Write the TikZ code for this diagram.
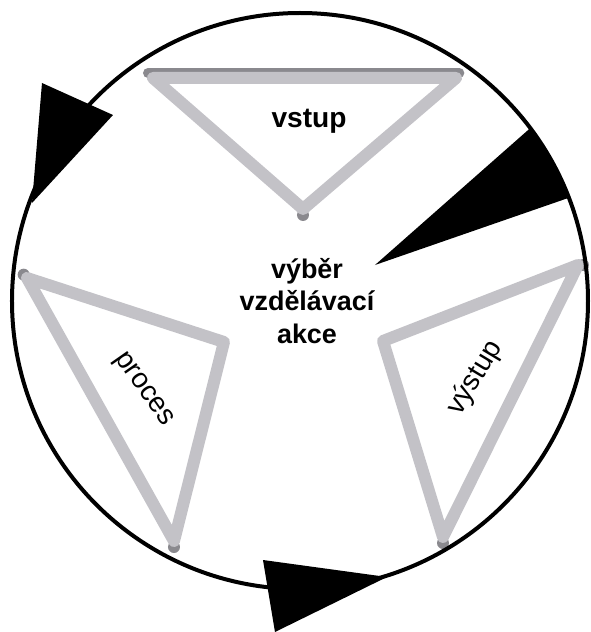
\documentclass[tikz,border=0pt]{standalone}
\usepackage{fontspec}
\setmainfont{Liberation Sans}
\usetikzlibrary{arrows.meta, positioning, calc}

\definecolor{trilight}{RGB}{195,194,199}
\definecolor{tridark}{RGB}{138,137,142}

\begin{document}
\begin{tikzpicture}[font=\fontsize{24}{28}\selectfont]
    \tikzset{
        ring/.style={draw, line width=0.12cm},
        head/.style={fill=black},
        tri/.style={draw=trilight, line width=0.36cm, line join=round},
        shade/.style={fill=tridark},
        hub/.style={font=\fontsize{23}{27.6}\selectfont\bfseries, align=center},
    }
    \useasboundingbox (-9.0,-9.93) rectangle (8.73,9.03);
    \fill[white] (-9.0,-9.93) rectangle (8.73,9.03);

    % corners of the three triangles
    \coordinate (in1) at (-4.41,6.69);
    \coordinate (in2) at (4.68,6.69);
    \coordinate (in3) at (0.09,2.76);
    \coordinate (pr1) at (-8.19,0.69);
    \coordinate (pr2) at (-2.28,-1.23);
    \coordinate (pr3) at (-3.78,-7.2);
    \coordinate (out1) at (8.34,1.08);
    \coordinate (out2) at (2.49,-1.2);
    \coordinate (out3) at (4.29,-7.08);

    % darker edges
    \draw[tridark, line width=0.3cm, line cap=round]
        ($(in1)+(-0.15,0.15)$) -- ($(in2)+(0.1,0.15)$);
    \fill[shade] ($(in3)+(0,-0.18)$) circle (0.18);
    \fill[shade] ($(pr1)+(-0.1,0.1)$) circle (0.18);
    \fill[shade] ($(pr3)+(0,-0.18)$) circle (0.18);
    \fill[shade] ($(out1)+(0.15,0)$) circle (0.18);
    \fill[shade] ($(out3)+(0,-0.18)$) circle (0.18);

    \draw[tri] (in1) -- (in2) -- (in3) -- cycle;
    \draw[tri] (pr1) -- (pr2) -- (pr3) -- cycle;
    \draw[tri] (out1) -- (out2) -- (out3) -- cycle;

    % cycle with its heads
    \coordinate (c) at (0,0);
    \draw[ring] (c) circle (8.64);
    \fill[head] (-7.74,6.54) -- (-5.61,5.58) -- (-8.04,2.94) -- cycle;
    \fill[head] (2.25,1.08) -- (36.9:8.64)
        arc[start angle=36.9, end angle=21, radius=8.64] -- cycle;
    \fill[head] (-1.11,-7.77) -- (2.61,-8.28) -- (-0.75,-9.93) -- cycle;

    % labels
    \node[hub] (hub) at (0.21,0.0) {výběr\\vzdělávací\\akce};
    \node[font=\fontsize{24}{28}\selectfont\bfseries, anchor=base] (vstup) at (0.27,5.19) {vstup};
    \node[rotate=-55] (proces) at (-4.71,-2.67) {proces};
    \node[rotate=59] (vystup) at (5.25,-2.31) {výstup};
\end{tikzpicture}
\end{document}
